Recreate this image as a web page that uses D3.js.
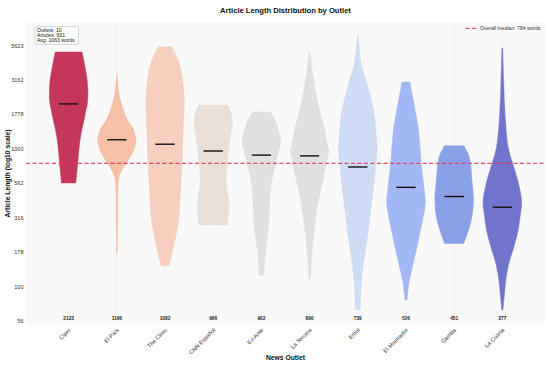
<!DOCTYPE html>
<html><head><meta charset="utf-8">
<script src="https://cdn.jsdelivr.net/npm/d3@7"></script>
<style>
html,body{margin:0;padding:0;background:#fff;}
text{font-family:"Liberation Sans",Arial,sans-serif;}
</style></head>
<body><svg id="chart" width="550" height="366"></svg>
<script>
const outlets = ["Ciper","El País","The Clinic","CNN Español","Ex-Ante","La Tercera","Emol","El Mostrador","Gamba","La Cuarta"];
const avgWords = [2123,1166,1082,966,902,890,739,526,451,377];
const colors = ["#c4365a","#f5c0a6","#f6cfbe","#eadfd7","#e2e0df","#e0e0e0","#cfdcf6","#a2b7f5","#8aa0e6","#7075cb"];
const yTicks = [56,100,178,316,562,1000,1778,3162,5623];
const overallMedian = 784;
const statLines = ["Outlets: 10","Articles: 931","Avg: 1063 words"];

// density profiles: [words, relative width]
const profCiper = [[5060,0.69],[4428,0.78],[4072,0.83],[3168,0.96],[2465,1.0],[2085,0.96],[1918,0.9],[1623,0.8],[1373,0.68],[1161,0.59],[982,0.53],[790,0.47],[647,0.41],[566,0.37]];
const profElPais = [[3562,0.01],[2681,0.08],[2267,0.18],[1918,0.34],[1623,0.55],[1443,0.8],[1263,0.95],[1161,1.0],[1056,0.95],[942,0.82],[831,0.6],[739,0.36],[625,0.11],[503,0.05],[305,0.04],[175,0.02]];
const profClinic = [[5528,0.34],[4813,0.57],[4004,0.78],[3168,0.91],[2267,1.0],[1373,0.94],[764,0.88],[440,0.78],[331,0.73],[249,0.6],[191,0.43],[142,0.21]];
const profCNN = [[2085,0.75],[1855,0.91],[1569,1.0],[1263,0.91],[982,0.8],[703,0.7],[575,0.67],[426,0.8],[366,0.82],[280,0.73]];
const profExAnte = [[1855,0.47],[1623,0.7],[1373,0.88],[1123,1.0],[904,0.85],[764,0.73],[575,0.52],[440,0.44],[331,0.41],[249,0.34],[191,0.22],[144,0.16],[121,0.12]];
const profTercera = [[4977,0.03],[3746,0.13],[3064,0.23],[2267,0.39],[1764,0.58],[1373,0.78],[1016,0.96],[982,1.0],[764,0.85],[575,0.67],[440,0.49],[331,0.34],[249,0.23],[191,0.14],[144,0.08],[115,0.04]];
const profEmol = [[6538,0.02],[5233,0.09],[4072,0.19],[3064,0.45],[2267,0.7],[1764,0.86],[1201,0.97],[982,1.0],[764,0.93],[575,0.85],[440,0.75],[331,0.64],[249,0.54],[191,0.41],[144,0.29],[108,0.19],[83,0.15],[68,0.13]];
const profMostrador = [[3064,0.21],[2681,0.28],[2344,0.36],[1764,0.52],[1373,0.65],[1016,0.73],[764,0.8],[529,0.93],[405,1.0],[305,0.86],[249,0.73],[191,0.56],[144,0.36],[108,0.16],[87,0.08],[80,0.06]];
const profGamba = [[1056,0.5],[982,0.62],[904,0.75],[764,0.86],[575,0.93],[440,1.0],[331,0.94],[266,0.78],[225,0.6],[206,0.5]];
const profCuarta = [[5383,0.02],[3064,0.07],[1764,0.14],[1016,0.31],[764,0.56],[575,0.82],[412,1.0],[331,0.93],[249,0.8],[191,0.58],[144,0.32],[108,0.17],[83,0.09],[68,0.03]];
const profiles = [profCiper,profElPais,profClinic,profCNN,profExAnte,profTercera,profEmol,profMostrador,profGamba,profCuarta];

const svg = d3.select("#chart");
const L = 26, R = 545, T = 22, B = 325;
const x = d3.scalePoint().domain(outlets).range([L,R]).padding(0.885);
const y = d3.scaleLog().domain([52.6, 8356]).range([B,T]);
const halfW = x.step()*0.4;
const w = d3.scaleLinear().domain([0,1]).range([0, halfW]);

svg.append("rect").attr("x",L).attr("y",T).attr("width",R-L).attr("height",B-T).attr("fill","#f9f9f9");

// vertical grid
svg.append("g").selectAll("line").data(outlets).join("line")
  .attr("x1",d=>x(d)).attr("x2",d=>x(d)).attr("y1",T).attr("y2",B)
  .attr("stroke","#eeeeee").attr("stroke-width",0.6);

// violins
outlets.forEach((o,i)=>{
  const cx = x(o);
  const area = d3.area()
    .y(d=>y(d[0]))
    .x0(d=>cx - w(d[1]))
    .x1(d=>cx + w(d[1]))
    .curve(d3.curveCatmullRom);
  svg.append("path").datum(profiles[i]).attr("d",area)
    .attr("fill",colors[i]).attr("stroke",colors[i]).attr("stroke-width",0.5);
});

// mean lines
svg.append("g").selectAll("line").data(outlets).join("line")
  .attr("x1",d=>x(d)-halfW/2).attr("x2",d=>x(d)+halfW/2)
  .attr("y1",(d,i)=>y(avgWords[i])).attr("y2",(d,i)=>y(avgWords[i]))
  .attr("stroke","#111").attr("stroke-width",1.4);

// overall median line
svg.append("line").attr("x1",L).attr("x2",R)
  .attr("y1",y(overallMedian)).attr("y2",y(overallMedian))
  .style("stroke","#f03050").style("stroke-width","1.2px").style("stroke-dasharray","4 2.5").attr("opacity",0.85);

// mean labels
svg.append("g").selectAll("text").data(outlets).join("text")
  .attr("x",d=>x(d)).attr("y",320).attr("text-anchor","middle")
  .attr("font-size",4.8).attr("font-weight","bold").attr("fill","#222")
  .text((d,i)=>avgWords[i]);

// y ticks
svg.append("g").selectAll("text").data(yTicks).join("text")
  .attr("x",23.5).attr("y",d=>y(d)).attr("dy","0.35em").attr("text-anchor","end")
  .attr("font-size",5.5).attr("fill","#333").text(d=>d);

// x ticks
svg.append("g").selectAll("text").data(outlets).join("text")
  .attr("transform",d=>`translate(${x(d)+1},${329}) rotate(-45)`)
  .attr("text-anchor","end").attr("dy","0.35em")
  .attr("font-size",5.7).attr("fill","#333").text(d=>d);

// titles
svg.append("text").attr("x",(L+R)/2).attr("y",12.5).attr("text-anchor","middle")
  .attr("font-size",7.6).attr("font-weight","bold").attr("fill","#111")
  .text("Article Length Distribution by Outlet");
svg.append("text").attr("x",(L+R)/2).attr("y",360).attr("text-anchor","middle")
  .attr("font-size",6.75).attr("font-weight","bold").attr("fill","#111").text("News Outlet");
svg.append("text").attr("transform",`translate(10,${(T+B)/2}) rotate(-90)`).attr("text-anchor","middle")
  .attr("font-size",6.75).attr("font-weight","bold").attr("fill","#111").text("Article Length (log10 scale)");

// stats box
const sb = svg.append("g");
sb.append("rect").attr("x",35).attr("y",26.7).attr("width",43.5).attr("height",17.6).attr("rx",1.5)
  .attr("fill","#fff").attr("stroke","#aaa").attr("stroke-width",0.5);
sb.selectAll("text").data(statLines).join("text")
  .attr("x",37).attr("y",(d,i)=>31.8+i*5).attr("font-size",5.1).attr("fill","#111").text(d=>d);

// legend
svg.append("line").attr("x1",465.5).attr("x2",476).attr("y1",28.3).attr("y2",28.3)
  .style("stroke","#f03050").style("stroke-width","1.2px").style("stroke-dasharray","4 2.5").attr("opacity",0.85);
svg.append("text").attr("x",480).attr("y",30).attr("font-size",5.1).attr("fill","#333")
  .text("Overall median: " + overallMedian + " words");
</script></body></html>
